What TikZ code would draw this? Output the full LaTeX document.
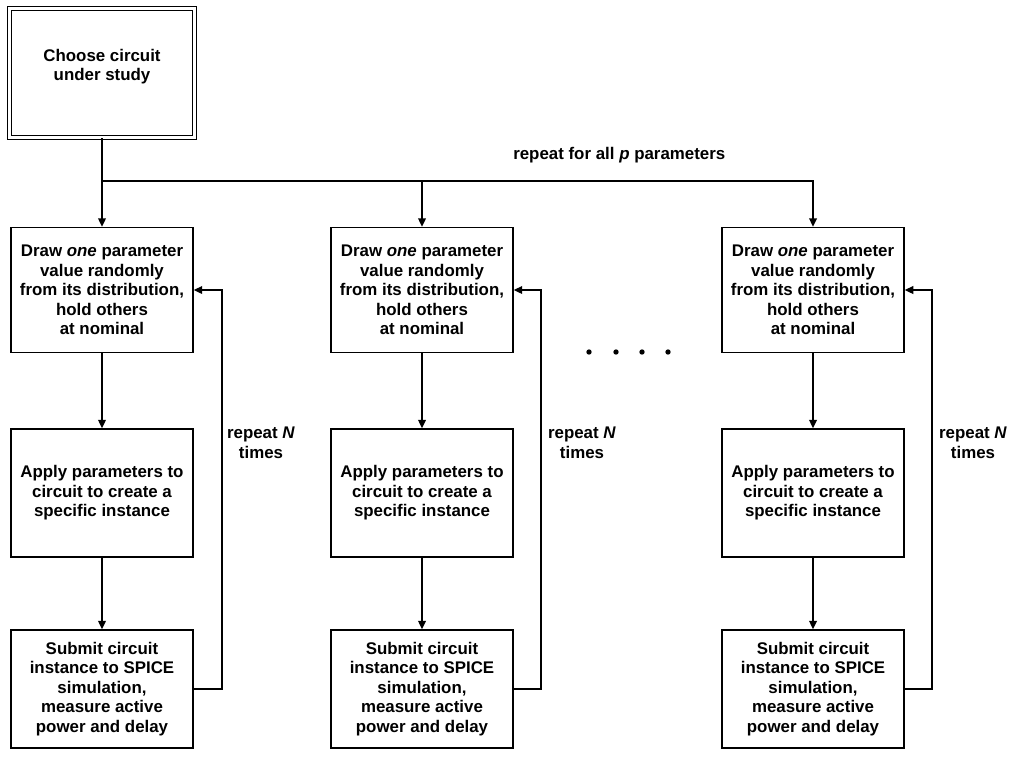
\documentclass[tikz,border=0pt]{standalone}
\usepackage{fontspec}
\setmainfont{Liberation Sans}
\usepackage{tikz}
\usetikzlibrary{arrows.meta,positioning}
\colorlet{flowline}{black}
\newcommand{\flowfont}{\fontsize{12}{13.9}\selectfont\bfseries}

\tikzset{
  procbox/.style={draw=flowline, line width=1.1pt, align=center, inner sep=2pt,
    minimum width=4.55cm, font=\flowfont},
  startbox/.style={procbox, double, double distance=1.7pt, line width=0.7pt},
  flow/.style={draw=flowline, line width=1.1pt, -{Triangle[length=6pt,width=5.5pt]}},
  backline/.style={draw=flowline, line width=1.1pt},
  notelabel/.style={align=center, inner sep=0pt, font=\flowfont}
}

\begin{document}
\begin{tikzpicture}[x=0.025cm, y=-0.025cm]
      \useasboundingbox (0,0) rectangle (1010,758);

      % --- start box ---
      \node[startbox, minimum width=4.63cm, minimum height=3.23cm, text depth=11.5pt] (choose) at (102,73)
        {Choose circuit\\under study};

      % --- first column ---
      \node[procbox, minimum height=3.125cm] (drawA) at (102,290)
        {Draw \textit{one} parameter\\value randomly\\from its distribution,\\hold others\\at nominal};
      \node[procbox, minimum height=3.2cm] (applyA) at (102,493)
        {Apply parameters to\\circuit to create a\\specific instance};
      \node[procbox, minimum height=2.95cm] (submitA) at (102,689)
        {Submit circuit\\instance to SPICE\\simulation,\\measure active\\power and delay};

      % --- second column ---
      \node[procbox, minimum height=3.125cm] (drawB) at (422,290)
        {Draw \textit{one} parameter\\value randomly\\from its distribution,\\hold others\\at nominal};
      \node[procbox, minimum height=3.2cm] (applyB) at (422,493)
        {Apply parameters to\\circuit to create a\\specific instance};
      \node[procbox, minimum height=2.95cm] (submitB) at (422,689)
        {Submit circuit\\instance to SPICE\\simulation,\\measure active\\power and delay};

      % --- last column ---
      \node[procbox, minimum height=3.125cm] (drawC) at (813,290)
        {Draw \textit{one} parameter\\value randomly\\from its distribution,\\hold others\\at nominal};
      \node[procbox, minimum height=3.2cm] (applyC) at (813,493)
        {Apply parameters to\\circuit to create a\\specific instance};
      \node[procbox, minimum height=2.95cm] (submitC) at (813,689)
        {Submit circuit\\instance to SPICE\\simulation,\\measure active\\power and delay};

      % fan out to the parameter columns
      \coordinate (fork) at (102,181);
      \draw[flow] (choose.south) -- (drawA.north);
      \draw[flow] (fork) -| (drawC.north);
      \draw[flow] (fork -| drawB.north) -- (drawB.north);
      \node[notelabel, anchor=west] (repP) at (513,155) {repeat for all \textit{p} parameters};

      % steps inside each column
      \draw[flow] (drawA) -- (applyA);
      \draw[flow] (applyA) -- (submitA);
      \draw[flow] (drawB) -- (applyB);
      \draw[flow] (applyB) -- (submitB);
      \draw[flow] (drawC) -- (applyC);
      \draw[flow] (applyC) -- (submitC);

      % repeat loops
      \draw[flow] (submitA.east) -- ++(28,0) |- (drawA.east);
      \draw[flow] (submitB.east) -- ++(27,0) |- (drawB.east);
      \draw[flow] (submitC.east) -- ++(27,0) |- (drawC.east);
      \node[notelabel] (repA) at (261,443) {repeat \textit{N}\\times};
      \node[notelabel] (repB) at (582,443) {repeat \textit{N}\\times};
      \node[notelabel] (repC) at (973,443) {repeat \textit{N}\\times};

      % more columns in between
      \fill (589,352) circle (1.9pt);
      \fill (616,352) circle (1.9pt);
      \fill (642,352) circle (1.9pt);
      \fill (668,352) circle (1.9pt);
\end{tikzpicture}
\end{document}
